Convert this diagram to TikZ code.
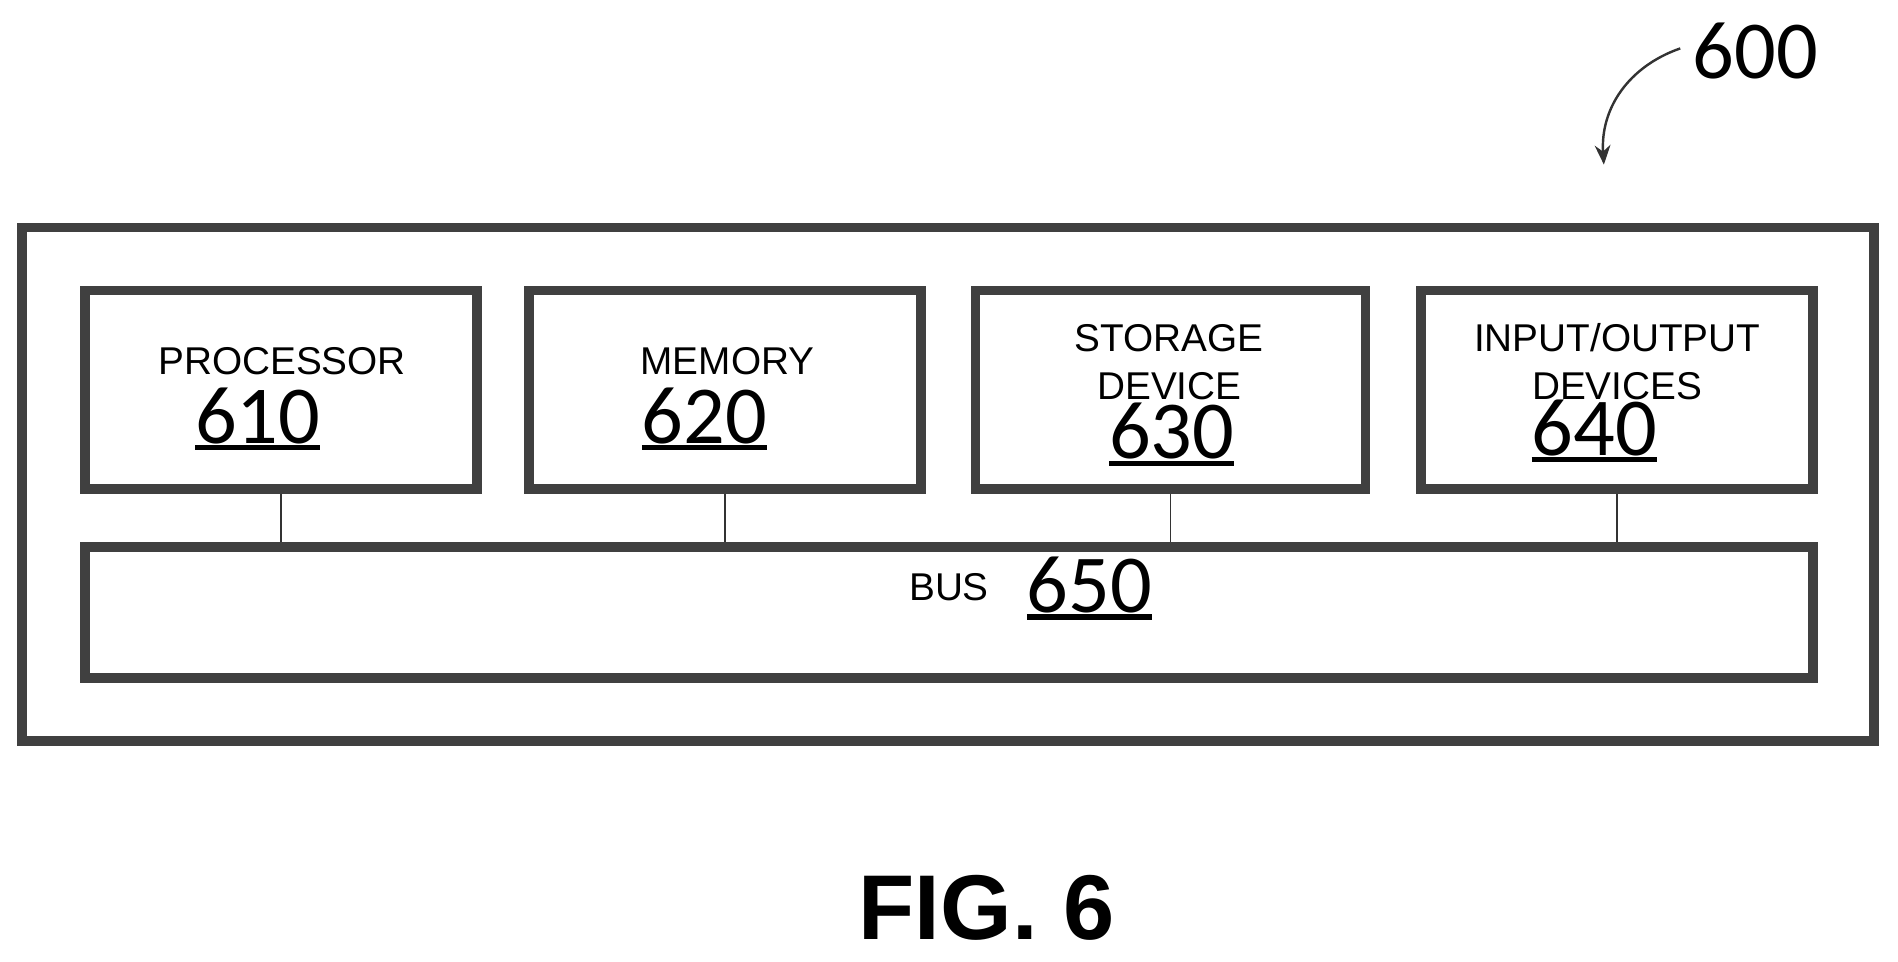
\documentclass[tikz,border=0pt]{standalone}
\usepackage{fontspec}
\setmainfont{Liberation Sans}
\newfontfamily\numfont{Carlito}
\usetikzlibrary{arrows.meta}
\newcommand\refnum[1]{\vtop{\hbox{\numfont\fontsize{68}{68}\selectfont #1}\kern1pt\hrule height 4.5pt}}

\begin{document}
\begin{tikzpicture}[x=1pt,y=-1pt,
	frame/.style={draw=black!75,line width=8pt,inner sep=0pt},
	lbl/.style={font=\fontsize{32}{40}\selectfont,align=center,inner sep=0pt},
	bus line/.style={draw=black!80,line width=1.5pt}]
	\useasboundingbox (0,0) rectangle (1568,794);
	% outer system box
	\draw[frame] (18,188) rectangle (1548,612);
	% components
	\node[frame,minimum width=324pt,minimum height=164pt] (proc) at (232,322) {};
	\node[frame,minimum width=324pt,minimum height=164pt] (mem) at (599,322) {};
	\node[frame,minimum width=322pt,minimum height=164pt] (stor) at (967,322) {};
	\node[frame,minimum width=324pt,minimum height=164pt] (io) at (1336,322) {};
	\node[frame,minimum width=1428pt,minimum height=108pt] (bus) at (784,506) {};
	\node[lbl] (procT) at (233,298) {PROCESSOR};
	\node[inner sep=0pt,anchor=base] (procN) at (213,366) {\refnum{610}};
	\node[lbl] (memT) at (601,298) {MEMORY};
	\node[inner sep=0pt,anchor=base] (memN) at (582,366) {\refnum{620}};
	\node[lbl] (storT) at (966,299) {STORAGE\\DEVICE};
	\node[inner sep=0pt,anchor=base] (storN) at (968,379) {\refnum{630}};
	\node[lbl] (ioT) at (1336,299) {INPUT/OUTPUT\\DEVICES};
	\node[inner sep=0pt,anchor=base] (ioN) at (1317,376) {\refnum{640}};
	\node[lbl] (busT) at (784,485) {BUS};
	\node[inner sep=0pt,anchor=base] (busN) at (900,506) {\refnum{650}};
	% links to the bus
	\foreach \c in {proc,mem,stor,io}
		\draw[bus line] (\c.south) -- (\c.south |- bus.north);
	% reference label
	\node[inner sep=0pt,font=\numfont\fontsize{68}{68}\selectfont] (sys) at (1450,42) {600};
	\coordinate (sysTip) at (1325,136);
	\draw[-{Stealth[length=16pt,width=13pt]},line width=2pt,black!80]
		(sys.west) ++(-10,-2) .. controls (1345,55) and (1322,90) .. (sysTip);
	\node[inner sep=0pt,font=\bfseries\fontsize{76}{76}\selectfont] (fig) at (815,750) {FIG. 6};
\end{tikzpicture}
\end{document}
